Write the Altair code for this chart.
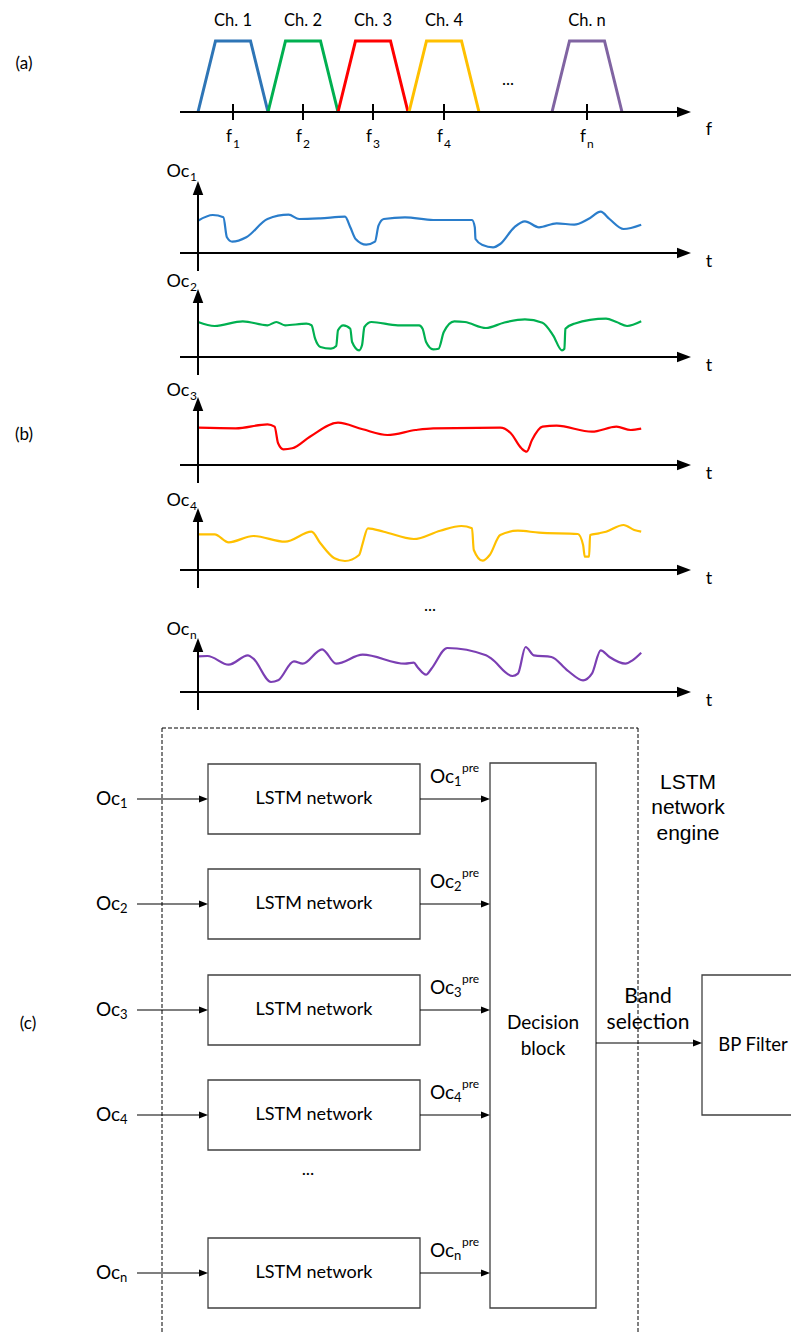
import altair as alt
import pandas as pd

# ---------------- data ----------------
# (a) channel plan
ch_labels = ["Ch. 1", "Ch. 2", "Ch. 3", "Ch. 4", "Ch. n"]
f_subs = ["1", "2", "3", "4", "n"]
f_centers = [233, 303, 373, 444, 587]
ch_colors = ["#2E75B6", "#00B050", "#FF0000", "#FFC000", "#8064A2"]

# (b) received signals: time along axis, amplitude above the t axis
oc1_t = [0, 14.8, 25.4, 28.9, 34.2, 48.3, 69.5, 90.6, 101.2, 122.4, 147, 152.3, 157.6, 168.2, 177, 180.5,
         185.8, 207, 235.2, 274, 276.8, 277.5, 284.6, 295.1, 302.2, 316.3, 326.9, 341, 358.6, 376.2, 390.3,
         402.7, 411.5, 425.6, 443.2]
oc1_a = [32.3, 38, 35.7, 15.7, 11.3, 15.7, 34, 38.3, 34, 34.7, 36.3, 25.7, 14, 8.3, 11.3, 27.3,
         34, 35.7, 33, 33, 25.7, 14, 8, 5.7, 9, 25.7, 31.7, 25.7, 29.7, 28.3, 34,
         41.3, 34, 24, 28.3]
oc2_t = [0, 16.6, 44.8, 69.5, 78.3, 87.1, 108.3, 113.5, 117.1, 122.4, 132.9, 138.2, 140, 145.3, 152.3, 154.1,
         161.1, 164, 166.4, 173.5, 199.9, 221.1, 224.6, 228.1, 235.2, 240.5, 245.8, 256.3, 266.9, 288, 305.7,
         326.9, 344.5, 355.1, 363.9, 366.4, 367.4, 376.2, 408, 418.5, 429.1, 443.2]
oc2_a = [35, 31, 35.7, 31.7, 35, 31.7, 33.3, 31.7, 18.3, 10, 8.3, 11, 26.7, 31.7, 28.3, 15,
         6.7, 11.7, 30, 35, 31.7, 31.7, 28.3, 15, 7.7, 8.3, 25, 35.7, 35, 29, 34.3,
         37.7, 34.3, 21.7, 6.7, 8.3, 28.3, 33.3, 38.3, 35, 31, 35.7]
oc3_t = [0, 37.7, 69.5, 76.6, 80.1, 85.4, 94.2, 111.9, 140, 164.7, 189.4, 217.6, 235.2, 302.2, 312.8, 323.4,
         328.7, 334, 344.5, 358.6, 393.9, 418.5, 432.7, 443.2]
oc3_a = [37.3, 36.7, 40.7, 38.3, 21.7, 15.7, 16.7, 28.3, 42.3, 35.7, 30, 35, 36.7, 37.3, 31.7, 16.7,
         13.3, 25, 38.3, 39.3, 33.3, 38.3, 35, 36.3]
oc4_t = [0, 16.6, 30.7, 55.4, 87.1, 113.5, 122.4, 136.5, 147, 161.1, 164.7, 169.9, 185.8, 215.8, 242.2, 263.4,
         274, 275.8, 284.6, 291.7, 302.2, 319.9, 341, 379.8, 385.1, 386.8, 391.1, 392.1, 400.9, 408, 425.6,
         436.2, 443.2]
oc4_a = [35.7, 35.7, 27.7, 34, 28.3, 38.3, 26.7, 11.7, 9, 15, 26.7, 41.7, 38.3, 31, 39.3, 44,
         41.7, 20, 9.3, 15, 35, 39.3, 37.3, 36, 25, 13.3, 13.3, 35, 36.7, 38.3, 45,
         40, 38.3]
ocn_t = [0, 9.5, 30.7, 50, 55.4, 73, 80.1, 95.9, 104.7, 124.1, 138.2, 164.7, 207, 215.8, 219.4, 228.1,
         233.4, 249.3, 288, 293.4, 314.5, 319.9, 327.6, 335.8, 353.4, 369.3, 385.1, 393.9, 402.7, 411.5, 427.4,
         434.5, 443.2]
ocn_a = [35.7, 36, 27.3, 36.7, 33.3, 10, 11.7, 30.7, 28.3, 42.7, 28.3, 37.3, 28.3, 29.3, 25, 17.3,
         23.3, 44, 36.7, 33.3, 16, 18.3, 45, 36.7, 35, 21.7, 11.7, 18.3, 41.7, 35, 28.3,
         31.7, 39.3]
oc_subs = ["1", "2", "3", "4", "n"]
oc_colors = ["#2A7DCB", "#00B050", "#FF0000", "#FFC000", "#7B3FB3"]

# (c) LSTM engine rows
lstm_subs = ["1", "2", "3", "4", "n"]
lstm_label = "LSTM network"

# ---------------- layout (pixel space of the page) ----------------
A_AXIS_Y, A_TOP_Y = 112, 41
B_X0 = 198
B_AXIS_Y = [253, 357, 465, 570, 692]
B_TIP_Y = [181, 289, 397, 508, 638]
B_LABEL_Y = [172, 282, 391, 501, 630]
C_ROW_Y = [799, 904, 1010, 1115, 1273]

axis_rules, thin_rules, dash_rules = [], [], []
big_right, big_up, small_right = [], [], []
texts_c, texts_l, texts_arial = [], [], []
trap_pts, curve_pts, boxes = [], [], []


def t(lst, x, y, s, txt):
    lst.append(dict(x=x, y=y, size=s, text=txt))


# (a)
axis_rules.append(dict(x=180, y=A_AXIS_Y, x2=678, y2=A_AXIS_Y))
big_right.append(dict(x=691, y=A_AXIS_Y))
for i, c in enumerate(f_centers):
    pts = [(c - 35, A_AXIS_Y), (c - 17.5, A_TOP_Y), (c + 17.5, A_TOP_Y), (c + 35, A_AXIS_Y)]
    for k, (px, py) in enumerate(pts):
        trap_pts.append(dict(g=i, o=k, x=px, y=py, color=ch_colors[i]))
    axis_rules.append(dict(x=c, y=A_AXIS_Y - 8, x2=c, y2=A_AXIS_Y + 8))
    t(texts_c, c, 21, 16.5, ch_labels[i])
    t(texts_c, c - 4, 137, 17, "f")
    t(texts_l, c, 144, 12, f_subs[i])
t(texts_c, 709, 130, 18, "f")
t(texts_c, 508, 80, 17, "...")
t(texts_c, 24, 64, 17, "(a)")

# (b)
series_t = [oc1_t, oc2_t, oc3_t, oc4_t, ocn_t]
series_a = [oc1_a, oc2_a, oc3_a, oc4_a, ocn_a]
for i in range(5):
    ay = B_AXIS_Y[i]
    axis_rules.append(dict(x=180, y=ay, x2=678, y2=ay))
    big_right.append(dict(x=691, y=ay))
    axis_rules.append(dict(x=B_X0, y=B_TIP_Y[i] + 12, x2=B_X0, y2=ay + 18))
    big_up.append(dict(x=B_X0, y=B_TIP_Y[i]))
    for k, (tt, aa) in enumerate(zip(series_t[i], series_a[i])):
        curve_pts.append(dict(g=i, o=k, x=B_X0 + tt, y=ay - aa, color=oc_colors[i]))
    t(texts_c, 178, B_LABEL_Y[i], 18, "Oc")
    t(texts_l, 190, B_LABEL_Y[i] + 5, 12, oc_subs[i])
    t(texts_c, 709, ay + 9, 18, "t")
t(texts_c, 430, 606, 17, "...")
t(texts_c, 24, 435, 17, "(b)")

# (c)
for i, ry in enumerate(C_ROW_Y):
    thin_rules.append(dict(x=137, y=ry, x2=200, y2=ry))
    small_right.append(dict(x=208, y=ry))
    boxes.append(dict(x=208, y=ry - 35, x2=420, y2=ry + 35))
    t(texts_c, 314, ry, 18, lstm_label)
    thin_rules.append(dict(x=420, y=ry, x2=482, y2=ry))
    small_right.append(dict(x=490, y=ry))
    t(texts_c, 108, ry, 19, "Oc")
    t(texts_l, 120, ry + 5, 13, lstm_subs[i])
    t(texts_c, 442, ry - 22, 19, "Oc")
    t(texts_l, 454, ry - 17, 13, lstm_subs[i])
    t(texts_l, 462, ry - 31, 12, "pre")
boxes.append(dict(x=490, y=763, x2=596, y2=1308))
boxes.append(dict(x=702, y=975, x2=800, y2=1115))
thin_rules.append(dict(x=596, y=1043, x2=694, y2=1043))
small_right.append(dict(x=702, y=1043))
t(texts_c, 543, 1023, 19, "Decision")
t(texts_c, 543, 1049, 19, "block")
t(texts_c, 648, 997, 21, "Band")
t(texts_c, 648, 1023, 21, "selection")
t(texts_c, 753, 1045, 18.5, "BP Filter")
t(texts_c, 308, 1170, 18, "...")
t(texts_c, 28, 1024, 17, "(c)")
t(texts_arial, 688, 783, 21, "LSTM")
t(texts_arial, 688, 808, 21, "network")
t(texts_arial, 688, 834, 21, "engine")
dash_rules += [dict(x=162, y=728, x2=638, y2=728),
               dict(x=162, y=728, x2=162, y2=1345),
               dict(x=638, y=728, x2=638, y2=1345)]

# ---------------- chart ----------------
XS = alt.Scale(domain=[8, 791], nice=False, zero=False)
YS = alt.Scale(domain=[8, 1334], nice=False, zero=False, reverse=True)
X = alt.X("x:Q", scale=XS, axis=None)
Y = alt.Y("y:Q", scale=YS, axis=None)


def rules(rows, **kw):
    return alt.Chart(pd.DataFrame(rows)).mark_rule(**kw).encode(
        x=X, y=Y, x2="x2:Q", y2="y2:Q")


def heads(rows, shape, size):
    return alt.Chart(pd.DataFrame(rows)).mark_point(
        shape=shape, size=size, filled=True, opacity=1, color="black", strokeWidth=0
    ).encode(x=X, y=Y)


def text_layer(rows, font, align):
    return alt.Chart(pd.DataFrame(rows)).mark_text(
        font=font, align=align, baseline="middle", color="#000000"
    ).encode(x=X, y=Y, text="text:N", size=alt.Size("size:Q", scale=None))


trap = alt.Chart(pd.DataFrame(trap_pts)).mark_line(strokeWidth=3).encode(
    x=X, y=Y, detail="g:N", order="o:Q", color=alt.Color("color:N", scale=None))
curves = alt.Chart(pd.DataFrame(curve_pts)).mark_line(strokeWidth=2.2, interpolate="monotone").encode(
    x=X, y=Y, detail="g:N", order="o:Q", color=alt.Color("color:N", scale=None))
rects = alt.Chart(pd.DataFrame(boxes)).mark_rect(
    fill="white", fillOpacity=0, stroke="#404040", strokeWidth=1.3
).encode(x=X, y=Y, x2="x2:Q", y2="y2:Q")

chart = alt.layer(
    rules(dash_rules, color="black", strokeWidth=1, strokeDash=[4, 2]),
    rects,
    trap,
    curves,
    rules(axis_rules, color="black", strokeWidth=2),
    rules(thin_rules, color="black", strokeWidth=1.2),
    heads(big_right, "M0,0L-2,-0.75L-2,0.75Z", 196),
    heads(big_up, "M0,0L-0.75,2L0.75,2Z", 196),
    heads(small_right, "M0,0L-2,-0.8L-2,0.8Z", 81),
    text_layer(texts_c, "Lato", "center"),
    text_layer(texts_l, "Lato", "left"),
    text_layer(texts_arial, "Liberation Sans", "center"),
).properties(
    width=783, height=1326, padding=0,
    autosize=alt.AutoSizeParams(type="none"),
).configure_view(stroke=None)

chart.save("out.html", embed_options={"renderer": "svg", "actions": False})
